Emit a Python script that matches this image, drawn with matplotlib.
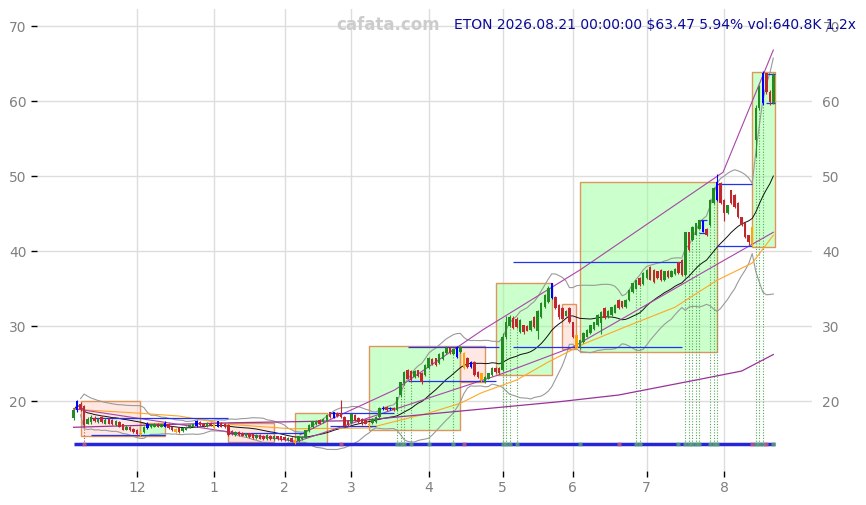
import numpy as np
import pandas as pd
import matplotlib
matplotlib.use('Agg')
import matplotlib.pyplot as plt
from matplotlib.patches import Rectangle

# DATA (daily bars, 2025-11-04 .. 2026-08-21)
holidays = ['2025-11-27', '2025-12-25', '2026-01-01', '2026-01-19', '2026-02-16',
            '2026-04-03', '2026-05-25', '2026-06-19', '2026-07-03']

opens = [17.7, 18.8, 19.6, 19.3, 17.0, 17.2, 17.8, 17.2, 17.9, 17.0,
         17.6, 17.5, 16.8, 17.2, 16.9, 16.2, 16.6, 16.3, 16.2, 15.6,
         15.9, 16.4, 16.5, 16.6, 17.0, 16.6, 16.6, 17.0, 16.6, 15.9,
         16.4, 16.0, 16.2, 16.5, 16.6, 16.7, 17.2, 17.0, 16.7, 17.1,
         16.4, 16.6, 17.1, 17.0, 16.8, 16.0, 15.5, 15.9, 15.8, 15.3,
         15.7, 15.6, 15.1, 15.5, 15.4, 14.9, 15.4, 14.9, 15.3, 15.3,
         15.2, 14.8, 15.1, 14.4, 14.7, 14.9, 15.2, 16.0, 16.5, 16.9,
         17.5, 17.2, 17.4, 18.5, 17.8, 18.4, 18.4, 17.9, 17.4, 17.1,
         18.2, 17.8, 17.6, 17.5, 16.8, 17.1, 17.2, 17.9, 18.9, 19.2,
         18.9, 19.1, 18.8, 20.8, 22.4, 24.1, 24.0, 23.2, 24.1, 23.8,
         23.5, 24.4, 25.6, 25.7, 25.1, 25.6, 26.4, 27.1, 26.3, 25.9,
         26.5, 26.4, 25.8, 25.2, 25.2, 23.9, 23.7, 22.5, 23.0, 23.5,
         24.4, 24.4, 24.1, 28.5, 30.0, 31.1, 31.0, 29.2, 30.1, 30.0,
         29.5, 31.2, 29.4, 31.2, 32.5, 33.2, 33.7, 33.9, 32.8, 32.4,
         31.4, 32.4, 30.5, 28.8, 27.2, 27.9, 28.6, 29.1, 29.6, 30.1,
         30.4, 32.4, 31.2, 31.5, 31.8, 33.5, 33.3, 32.5, 33.5, 34.5,
         35.0, 36.4, 35.6, 36.4, 37.9, 37.5, 37.3, 37.5, 36.1, 37.4,
         36.6, 36.9, 38.5, 38.8, 36.8, 42.5, 41.5, 42.2, 43.0, 44.0,
         43.0, 43.5, 46.4, 46.8, 49.1, 46.8, 45.1, 48.1, 47.5, 46.4,
         44.5, 43.7, 42.1, 41.0, 54.8, 59.1, 59.7, 63.7, 61.2, 59.7]

highs = [19.0, 20.2, 19.9, 19.5, 17.9, 18.1, 18.0, 17.8, 18.0, 17.7,
         17.8, 17.6, 17.5, 17.3, 17.0, 16.8, 16.7, 16.4, 16.3, 16.0,
         16.7, 17.2, 17.0, 17.1, 17.1, 17.0, 17.3, 17.1, 16.7, 16.4,
         16.5, 16.5, 16.7, 16.9, 17.0, 17.5, 17.3, 17.1, 17.2, 17.2,
         17.1, 17.4, 17.2, 17.1, 16.9, 16.1, 16.0, 16.0, 15.9, 15.8,
         15.8, 15.7, 15.6, 15.6, 15.5, 15.6, 15.5, 15.5, 15.4, 15.4,
         15.3, 15.2, 15.2, 14.9, 15.4, 15.4, 16.2, 16.9, 17.4, 17.5,
         17.6, 17.7, 18.2, 18.6, 18.6, 18.5, 20.1, 18.0, 17.5, 18.4,
         18.3, 17.9, 17.7, 17.6, 17.1, 17.7, 18.0, 19.2, 19.3, 19.3,
         19.2, 19.2, 20.6, 22.6, 24.0, 24.3, 24.1, 24.2, 24.2, 23.9,
         25.0, 25.9, 25.8, 25.8, 26.4, 26.7, 27.3, 27.2, 27.1, 27.3,
         27.3, 26.5, 25.9, 25.3, 25.3, 24.0, 23.8, 23.3, 23.8, 24.5,
         24.5, 24.5, 29.1, 31.4, 31.5, 31.3, 31.2, 30.9, 30.2, 30.1,
         30.8, 31.3, 32.2, 33.2, 34.3, 35.3, 35.8, 34.0, 32.9, 32.5,
         32.1, 32.5, 30.6, 29.0, 28.2, 29.2, 29.6, 30.2, 30.6, 31.6,
         32.0, 32.5, 32.1, 32.6, 32.9, 33.6, 33.4, 33.6, 34.9, 35.8,
         36.2, 36.5, 37.2, 37.6, 38.0, 37.6, 37.4, 37.6, 37.4, 37.5,
         37.5, 37.7, 38.6, 38.9, 42.6, 42.6, 43.3, 43.8, 44.2, 44.1,
         43.1, 46.9, 48.5, 50.3, 49.2, 46.9, 46.2, 48.2, 47.6, 46.5,
         44.6, 43.8, 42.2, 43.5, 59.5, 62.2, 64.0, 63.8, 61.5, 63.7]

lows = [17.5, 18.6, 18.7, 16.6, 16.9, 17.0, 17.2, 17.1, 17.1, 16.9,
        16.9, 16.8, 16.7, 16.5, 16.1, 16.1, 16.0, 15.8, 15.4, 15.4,
        15.8, 16.3, 16.4, 16.5, 16.5, 16.5, 16.5, 16.3, 16.0, 15.8,
        15.8, 15.9, 16.1, 16.4, 16.5, 16.6, 16.7, 16.6, 16.6, 16.7,
        16.3, 16.5, 16.5, 16.4, 15.4, 15.5, 15.4, 15.4, 15.3, 15.2,
        15.1, 15.0, 15.0, 14.9, 14.8, 14.8, 14.8, 14.8, 14.8, 14.7,
        14.7, 14.7, 14.5, 14.3, 14.6, 14.8, 15.1, 15.9, 16.4, 16.8,
        16.9, 17.1, 17.3, 17.8, 17.7, 17.9, 17.8, 16.6, 16.7, 17.0,
        17.4, 17.1, 16.8, 16.9, 16.6, 17.0, 17.1, 17.8, 18.8, 18.7,
        18.8, 18.7, 18.7, 20.6, 22.2, 22.9, 22.6, 23.1, 23.2, 22.3,
        23.4, 24.3, 24.8, 24.7, 25.0, 25.5, 26.3, 26.3, 26.2, 25.8,
        26.4, 24.3, 24.4, 24.4, 23.4, 23.1, 22.6, 22.4, 22.9, 23.4,
        23.8, 23.6, 24.0, 28.3, 29.9, 29.6, 29.8, 29.1, 29.0, 29.3,
        29.4, 29.8, 28.3, 31.1, 32.4, 33.1, 33.6, 32.3, 31.0, 30.9,
        31.3, 30.4, 28.4, 26.9, 26.9, 27.8, 28.5, 29.0, 29.5, 30.0,
        29.0, 31.0, 31.1, 31.4, 31.7, 32.3, 32.4, 32.4, 33.4, 34.4,
        34.9, 35.4, 35.5, 36.3, 36.1, 35.8, 36.3, 36.0, 36.0, 36.4,
        36.5, 36.8, 37.0, 36.7, 36.7, 40.0, 41.4, 42.1, 42.9, 42.5,
        42.0, 43.4, 46.3, 46.7, 46.3, 44.0, 45.0, 46.3, 45.8, 44.4,
        43.4, 41.8, 40.8, 40.6, 52.5, 58.8, 59.5, 61.0, 59.5, 59.6]

closes = [18.8, 20.0, 18.9, 16.8, 17.6, 17.9, 17.3, 17.6, 17.2, 17.5,
          17.0, 16.9, 17.4, 16.6, 16.2, 16.6, 16.1, 15.9, 15.6, 15.8,
          16.6, 17.0, 16.9, 17.0, 16.6, 16.9, 17.1, 16.4, 16.1, 16.3,
          15.9, 16.4, 16.6, 16.8, 16.9, 17.4, 16.8, 16.7, 17.1, 16.8,
          17.0, 17.3, 16.6, 16.5, 15.5, 15.6, 15.9, 15.5, 15.4, 15.7,
          15.2, 15.1, 15.5, 15.0, 14.9, 15.5, 14.9, 15.4, 14.9, 14.8,
          14.8, 15.1, 14.6, 14.8, 15.3, 15.2, 16.1, 16.8, 17.3, 17.4,
          17.0, 17.6, 18.1, 17.9, 18.5, 18.0, 17.9, 16.7, 16.8, 18.3,
          17.5, 17.2, 16.9, 17.0, 17.0, 17.6, 17.9, 19.1, 19.1, 18.8,
          19.1, 18.8, 20.5, 22.5, 23.9, 23.0, 22.8, 24.0, 23.3, 22.5,
          24.8, 25.7, 24.9, 24.8, 26.3, 26.5, 27.1, 26.4, 27.0, 27.2,
          27.2, 24.4, 24.5, 24.5, 23.5, 23.2, 22.8, 23.2, 23.7, 24.4,
          23.9, 23.7, 28.5, 30.5, 31.2, 29.7, 29.9, 30.8, 29.2, 29.4,
          30.7, 29.9, 32.0, 33.1, 34.1, 35.1, 35.7, 32.4, 31.2, 31.0,
          32.0, 30.5, 28.5, 27.1, 28.1, 29.1, 29.5, 30.1, 30.5, 31.5,
          31.9, 31.1, 32.0, 32.5, 32.8, 32.4, 32.5, 33.5, 34.8, 35.7,
          36.1, 35.5, 37.1, 37.5, 36.2, 35.9, 36.4, 36.1, 37.3, 36.5,
          37.4, 37.6, 37.1, 36.8, 42.5, 40.1, 43.2, 43.7, 44.1, 42.6,
          42.1, 46.8, 48.4, 49.2, 46.4, 45.1, 46.1, 46.4, 45.9, 44.5,
          43.5, 41.9, 41.2, 43.2, 59.1, 61.9, 63.7, 61.2, 59.9, 63.47]

blue_bars = [1, 21, 26, 35, 41, 74, 88, 90, 109, 113, 136, 179, 183, 196]
orange_bars = [19, 29, 40, 63, 84, 111, 116, 143, 193]

# moving average lines (bar index, price)
orange_idx = [0, 18, 30, 44, 62, 84, 101, 110, 116, 126, 135, 145, 157, 171, 183, 193, 199]
orange_val = [18.9, 18.4, 18.0, 16.9, 16.3, 16.4, 18.4, 19.7, 21.1, 22.8, 25.2, 27.6, 29.9, 32.5, 36.1, 38.4, 42.1]
slow_idx = [0, 45, 81.5, 138, 155, 177, 190, 199]
slow_val = [16.5, 17.1, 17.4, 19.9, 20.8, 22.8, 24.0, 26.2]
upper_idx = [64.4, 72.9, 91.4, 116.4, 144.1, 184.7, 199]
upper_val = [15.5, 17.5, 21.5, 29.5, 37.5, 50.5, 66.8]
lower_idx = [0, 41, 63.5, 121, 142, 184, 199]
lower_val = [19.0, 16.1, 14.6, 23.5, 27.2, 38.5, 42.5]

# boxes: start bar, end bar, low, high, kind
box_x0 = [2, 19, 44, 63, 84, 110, 120, 139, 144, 193]
box_x1 = [19, 26, 57, 72, 110, 117, 136, 143, 183, 199.5]
box_lo = [15.3, 15.3, 14.6, 14.4, 16.1, 22.5, 23.5, 27.0, 26.5, 40.6]
box_hi = [20.0, 17.1, 17.1, 18.4, 27.3, 27.3, 35.7, 33.0, 49.2, 63.9]
box_kind = ['down', 'up', 'down', 'up', 'up', 'down', 'up', 'down', 'up', 'up']

# horizontal levels: price, start bar, end bar
lvl_price = [17.7, 15.5, 15.8, 18.4, 16.7, 19.1, 27.2, 22.7, 27.2, 38.5, 44.1, 42.4, 49.0, 40.7, 63.6, 59.7]
lvl_x0 = [5, 5, 44, 73, 73, 88, 95, 95, 125, 125, 178, 178, 183, 183, 197, 197]
lvl_x1 = [44, 26, 66, 91, 86, 91, 121, 120, 173, 173, 180, 180, 193, 193, 199.5, 199.5]
base_level = 14.3

# signal bars
sig_up = [92, 93, 94, 96, 101, 108, 122, 123, 124, 126, 160, 161, 174, 175, 176, 177, 178,
          181, 182, 183, 194, 195, 196]
mark_up = sig_up + [144, 172, 199]
mark_dn = [3, 76, 111, 155, 193, 197]

# ******************************
n = len(closes)
dates = pd.bdate_range('2025-11-04', '2026-08-21', freq='C', holidays=holidays)[:n]
x = np.arange(n)
o = np.array(opens); h = np.array(highs); l = np.array(lows); c = np.array(closes)

fig = plt.figure(figsize=(8.66, 5.05), dpi=100)
ax = fig.add_axes([37 / 866, 34 / 505, 775 / 866, 462 / 505])

for i in range(len(box_x0)):
    fc = '#99ff99' if box_kind[i] == 'up' else '#ffd2c8'
    ax.add_patch(Rectangle((box_x0[i], box_lo[i]), box_x1[i] - box_x0[i], box_hi[i] - box_lo[i],
                           facecolor=fc, alpha=0.5, edgecolor='none', zorder=1))
    ax.add_patch(Rectangle((box_x0[i], box_lo[i]), box_x1[i] - box_x0[i], box_hi[i] - box_lo[i],
                           facecolor='none', edgecolor='#e0955a', lw=1, zorder=1.5))

# bollinger
s = pd.Series(c)
ma = s.rolling(20, min_periods=1).mean()
sd = s.rolling(20, min_periods=3).std(ddof=0)
ax.plot(x, ma + 2 * sd, color='#9a9a9a', lw=0.8, zorder=2)
ax.plot(x, ma - 2 * sd, color='#9a9a9a', lw=0.8, zorder=2)
ax.plot(x, ma, color='#111111', lw=0.7, zorder=2.5)
ax.plot(orange_idx, orange_val, color='#ffa726', lw=0.8, zorder=2.5)
ax.plot(slow_idx, slow_val, color='#993399', lw=0.9, zorder=2.5)
ax.plot(upper_idx, upper_val, color='#aa44aa', lw=0.8, zorder=2.5)
ax.plot(lower_idx, lower_val, color='#aa44aa', lw=0.8, zorder=2.5)

for i in range(len(lvl_price)):
    ax.hlines(lvl_price[i], lvl_x0[i], lvl_x1[i], color='#2233ee', lw=0.9, zorder=3)
ax.hlines(base_level, 0, n - 0.5, color='#2626d9', lw=2.5, zorder=3)

for i in sig_up:
    ax.vlines(i, base_level, l[i], color='#55aa55', lw=0.8, linestyles=(0, (1, 1.5)), zorder=2)
ax.vlines(3, base_level, l[3], color='#cc5566', lw=0.8, linestyles=(0, (1, 1.5)), zorder=2)
ax.plot(mark_up, [base_level] * len(mark_up), 's', ms=3, color='#66bb66', alpha=0.7, mec='none', zorder=3.5)
ax.plot(mark_dn, [base_level] * len(mark_dn), 's', ms=3, color='#dd6677', alpha=0.7, mec='none', zorder=3.5)

# candles
cols = np.where(c >= o, '#228b22', '#c0282d').astype(object)
cols[blue_bars] = '#0000ff'
cols[orange_bars] = '#ffa500'
ax.vlines(x, l, h, colors=list(cols), lw=0.8, zorder=4)
body = np.maximum(np.abs(c - o), 0.08)
ax.bar(x, body, bottom=np.minimum(o, c), width=0.7, color=list(cols), lw=0, zorder=4.5)

# axes
ax.set_xlim(-10.4, 210)
ax.set_ylim(10.67, 72.27)
ax.set_yticks([20, 30, 40, 50, 60, 70])
month_pos = [i for i in range(1, n) if dates[i].month != dates[i - 1].month]
ax.set_xticks(month_pos)
ax.set_xticklabels([str(dates[i].month) for i in month_pos])
ax.grid(color='#dddddd', lw=1)
ax.set_axisbelow(True)
for sp in ax.spines.values():
    sp.set_visible(False)
ax.tick_params(axis='both', labelsize=10, labelcolor='#808080', length=4, width=1, color='black')
ax.tick_params(axis='y', labelright=True, right=False)

fig.text(388 / 866, 1 - 25 / 505, 'cafata.com', fontsize=12, fontweight='bold', color='#cccccc',
         ha='center', va='center')
fig.text(454 / 866, 1 - 25 / 505, r'ETON 2026.08.21 00:00:00 \$63.47 5.94% vol:640.8K 1.2x',
         fontsize=10, color='#0a0a96', ha='left', va='center')

fig.savefig('out.png', dpi=100)
